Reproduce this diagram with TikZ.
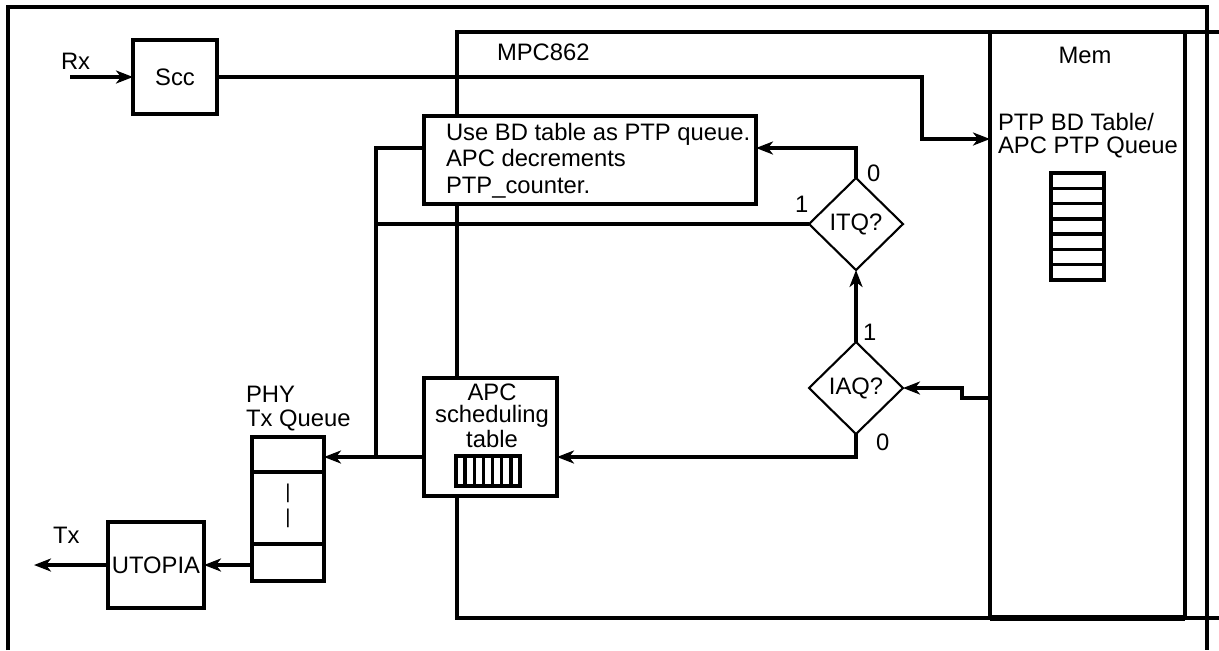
\documentclass[tikz,border=0pt]{standalone}
\usepackage{fontspec}
\setmainfont{Liberation Sans}
\usetikzlibrary{shapes.geometric,arrows.meta,calc}
\begin{document}
\begin{tikzpicture}[x=0.5pt,y=-0.5pt,
  font=\fontsize{11.9}{13.25}\selectfont,
  wire/.style={line width=1.7pt},
  box/.style={draw, line width=1.7pt, fill=white, inner sep=0pt, outer sep=0pt, rectangle},
  dec/.style={draw, diamond, line width=1.05pt, fill=white, inner sep=0pt, outer sep=0pt,
              minimum width=47pt, minimum height=46pt},
  arr/.style={line width=1.7pt, -{Stealth[length=8.5pt,width=6.5pt,inset=2.5pt]}},
  lbl/.style={inner sep=0pt, outer sep=0pt}
]
\useasboundingbox (0,0) rectangle (1219,650);

% outer frame and MPC862 frame
\draw[wire] (8,650) -- (8,7) -- (1207,7) -- (1207,650);
\draw[wire] (1219,32) -- (457,32) -- (457,618) -- (1219,618);
\node[lbl, anchor=base west] (mpc) at (497,60) {MPC862};

% memory
\node[box, fill=none, minimum width=97.5pt, minimum height=293pt] (mem) at (1087.5,325) {};
\draw[line width=2.8pt] (mem.south west) -- (mem.south east);
\node[lbl, anchor=base] (memlbl) at (1085,63) {Mem};
\node[lbl, anchor=base west, align=left, font=\fontsize{11.9}{11.5}\selectfont] (ptp) at (998,153) {PTP BD Table/\\APC PTP Queue};
\node[box, minimum width=26.5pt, minimum height=53.5pt] (stack) at (1077.5,226.5) {};
\foreach \i in {1,...,6}
  \draw[wire] ($(stack.north west)!\i/7!(stack.south west)$) -- ($(stack.north east)!\i/7!(stack.south east)$);

% Scc
\node[box, minimum width=42pt, minimum height=37pt] (scc) at (175,77) {Scc};
\node[lbl, anchor=base west] (rx) at (61,69) {Rx};
\coordinate (rxin) at (70,77);
\draw[arr] (rxin) -- (scc.west);
\coordinate (j1) at (922,139);
\draw[arr] (scc.east) -| (j1) -- (j1 -| mem.west);

% BD box
\node[box, minimum width=166pt, minimum height=44pt] (bd) at (590,160) {};
\node[lbl, anchor=base west, align=left, font=\fontsize{11.9}{13.25}\selectfont] (bdtxt) at (446,193)
  {Use BD table as PTP queue.\\APC decrements\\PTP\_counter.};

% decisions
\node[dec] (itq) at (856,224) {ITQ?};
\node[dec] (iaq) at (856,388) {IAQ?};

% APC scheduling table
\node[box, minimum width=66.5pt, minimum height=59pt] (apc) at (490.5,437) {};
\node[lbl, anchor=base, align=center, font=\fontsize{11.9}{11}\selectfont] (apctxt) at (492,447) {APC\\scheduling\\table};
\node[box, minimum width=32pt, minimum height=15pt] (mini) at (488,471) {};
\foreach \i in {1,...,6}
  \draw[wire] ($(mini.north west)!\i/7!(mini.north east)$) -- ($(mini.south west)!\i/7!(mini.south east)$);

% PHY Tx queue
\node[box, minimum width=36pt, minimum height=72pt] (phy) at (288,509) {};
\draw[wire] ($(phy.north west)!0.243!(phy.south west)$) -- ($(phy.north east)!0.243!(phy.south east)$);
\draw[wire] ($(phy.north west)!0.743!(phy.south west)$) -- ($(phy.north east)!0.743!(phy.south east)$);
\node[lbl, align=center, font=\fontsize{10}{12.5}\selectfont] (bars) at (288,506) {|\\|};
\node[lbl, anchor=base west, align=left, font=\fontsize{11.9}{12}\selectfont] (phylbl) at (246,426) {PHY\\Tx Queue};

% UTOPIA
\node[box, minimum width=48pt, minimum height=43pt] (utopia) at (156,565) {UTOPIA};
\node[lbl, anchor=base west] (tx) at (53,543) {Tx};
\coordinate (txout) at (34,565);

% connectors
\coordinate (j3) at (376,457);
\coordinate (j4) at (962,398);
\draw[arr] (iaq.north) -- (itq.south);
\draw[arr] (iaq.south) |- ([yshift=-10pt]apc.east);
\draw[arr] (itq.north) |- ([yshift=6pt]bd.east);
\draw[wire] (itq.west) -- (itq.west -| j3);
\draw[wire] ([yshift=6pt]bd.west) -| (j3);
\draw[arr] ([yshift=-10pt]apc.west) -- (j3) -- (j3 -| phy.east);
\draw[arr] (mem.west |- j4) -- (j4) |- (iaq.east);
\draw[arr] (phy.west |- utopia.east) -- (utopia.east);
\draw[arr] (utopia.west) -- (txout);

% branch labels
\node[lbl, anchor=base west] (l1) at (863,340) {1};
\node[lbl, anchor=base west] (l2) at (876,450) {0};
\node[lbl, anchor=base west] (l3) at (867,181) {0};
\node[lbl, anchor=base west] (l4) at (795,212) {1};
\end{tikzpicture}
\end{document}
